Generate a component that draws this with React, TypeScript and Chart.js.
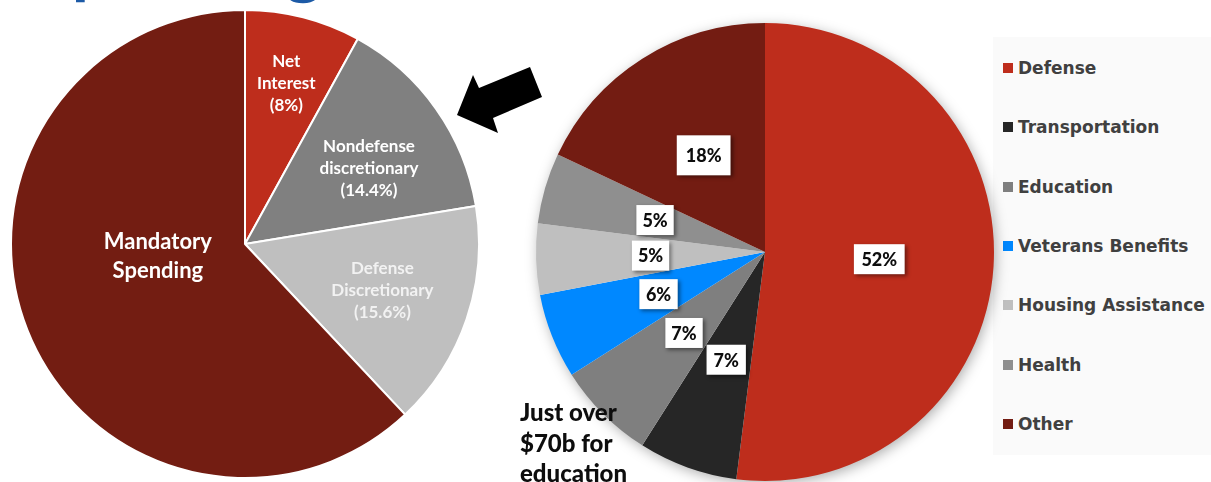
import React, { useEffect, useRef } from "react";
import { Chart, registerables } from "chart.js";
Chart.register(...registerables);

// ---------- data ----------
const leftCategories = ["Net Interest", "Nondefense discretionary", "Defense Discretionary", "Mandatory Spending"];
const leftValues = [8, 14.4, 15.6, 62];
const leftLabelLines = [["Net", "Interest"], ["Nondefense", "discretionary"], ["Defense", "Discretionary"], ["Mandatory", "Spending"]];
const leftShowPct = [true, true, true, false];

const rightCategories = ["Defense", "Transportation", "Education", "Veterans Benefits", "Housing Assistance", "Health", "Other"];
const rightValues = [52, 7, 7, 6, 5, 5, 18];

const titleText = "Spending";
const noteLines = ["Just over", "$70b for", "education"];

// ---------- styles ----------
const leftColors = ["#BE2D1C", "#808080", "#BFBFBF", "#731D12"];
const leftLabelRadius = [0.71, 0.62, 0.62, 0.376];
const leftLabelAngleShift = [0, 4, 0, 13.7];
const leftLabelFont = [17, 17, 17, 22];
const leftLabelLineH = [22, 22, 22, 29];
const leftLabelColor = ["#FFFFFF", "#FFFFFF", "#F2F2F2", "#FFFFFF"];

const rightColors = ["#BE2D1C", "#262626", "#7F7F7F", "#0088FF", "#BFBFBF", "#8F8F8F", "#731C12"];
const rightBoxPadX = [15, 14, 12, 13, 12, 12, 18];
const rightBoxH = [30, 30, 30, 30, 30, 30, 40];

const FONT = "Lato, 'Open Sans', sans-serif";

const leftLabelPlugin = {
  id: "leftLabels",
  afterDatasetsDraw(chart: any) {
    const ctx = chart.ctx;
    const meta = chart.getDatasetMeta(0);
    const vals = chart.data.datasets[0].data as number[];
    meta.data.forEach((arc: any, i: number) => {
      const { x, y, startAngle, endAngle, outerRadius } = arc.getProps(["x", "y", "startAngle", "endAngle", "outerRadius"], true);
      const a = (startAngle + endAngle) / 2 + (leftLabelAngleShift[i] * Math.PI) / 180;
      const r = outerRadius * leftLabelRadius[i];
      const cx = x + Math.cos(a) * r;
      const cy = y + Math.sin(a) * r;
      const lines = [...leftLabelLines[i]];
      if (leftShowPct[i]) lines.push(`(${vals[i]}%)`);
      ctx.save();
      ctx.font = `bold ${leftLabelFont[i]}px ${FONT}`;
      ctx.fillStyle = leftLabelColor[i];
      ctx.textAlign = "center";
      ctx.textBaseline = "middle";
      const lh = leftLabelLineH[i];
      lines.forEach((ln, k) => {
        ctx.fillText(ln, cx, cy + (k - (lines.length - 1) / 2) * lh);
      });
      ctx.restore();
    });
  },
};

const rightShadowPlugin = {
  id: "rightShadow",
  beforeDatasetsDraw(chart: any) {
    const ctx = chart.ctx;
    const arc = chart.getDatasetMeta(0).data[0] as any;
    if (!arc) return;
    const { x, y, outerRadius } = arc.getProps(["x", "y", "outerRadius"], true);
    ctx.save();
    ctx.shadowColor = "rgba(0,0,0,0.35)";
    ctx.shadowBlur = 14;
    ctx.shadowOffsetX = 2;
    ctx.shadowOffsetY = 3;
    ctx.fillStyle = "#ffffff";
    ctx.beginPath();
    ctx.arc(x, y, outerRadius - 1, 0, Math.PI * 2);
    ctx.fill();
    ctx.restore();
  },
};

const rightLabelPlugin = {
  id: "rightLabels",
  afterDatasetsDraw(chart: any) {
    const ctx = chart.ctx;
    const meta = chart.getDatasetMeta(0);
    const vals = chart.data.datasets[0].data as number[];
    meta.data.forEach((arc: any, i: number) => {
      const p = arc.tooltipPosition(true);
      const txt = `${vals[i]}%`;
      ctx.save();
      ctx.font = `900 18px ${FONT}`;
      const w = ctx.measureText(txt).width + rightBoxPadX[i];
      const h = rightBoxH[i];
      ctx.shadowColor = "rgba(0,0,0,0.45)";
      ctx.shadowBlur = 4;
      ctx.shadowOffsetX = 2;
      ctx.shadowOffsetY = 2;
      ctx.fillStyle = "#ffffff";
      ctx.fillRect(p.x - w / 2, p.y - h / 2, w, h);
      ctx.shadowColor = "transparent";
      ctx.fillStyle = "#0D0D0D";
      ctx.textAlign = "center";
      ctx.textBaseline = "middle";
      ctx.fillText(txt, p.x, p.y + 1);
      ctx.restore();
    });
  },
};

function PieCanvas({ kind }: { kind: "left" | "right" }) {
  const ref = useRef<HTMLCanvasElement>(null);
  useEffect(() => {
    if (!ref.current) return;
    const isLeft = kind === "left";
    const chart = new Chart(ref.current, {
      type: "pie",
      data: {
        labels: isLeft ? leftCategories : rightCategories,
        datasets: [
          {
            data: isLeft ? leftValues : rightValues,
            backgroundColor: isLeft ? leftColors : rightColors,
            borderColor: "#ffffff",
            borderWidth: isLeft ? 2 : 0,
            hoverOffset: 0,
            hoverBorderWidth: isLeft ? 2 : 0,
          } as any,
        ],
      },
      options: {
        animation: false,
        responsive: true,
        maintainAspectRatio: false,
        events: [],
        layout: { padding: isLeft ? 0 : 20 },
        plugins: {
          legend: { display: false },
          tooltip: { enabled: false },
        },
      },
      plugins: isLeft ? [leftLabelPlugin] : [rightShadowPlugin, rightLabelPlugin],
    });
    return () => chart.destroy();
  }, [kind]);
  return <canvas ref={ref} />;
}

export default function App() {
  useEffect(() => {
    document.body.style.margin = "0";
  }, []);
  return (
    <div style={{ position: "relative", width: 1211, height: 482, overflow: "hidden", background: "#ffffff" }}>
      <div
        style={{
          position: "absolute",
          left: 34,
          top: -72,
          font: `bold 70px ${FONT}`,
          lineHeight: "70px",
          color: "#1C5AA6",
          whiteSpace: "nowrap",
        }}
      >
        {titleText}
      </div>
      <div style={{ position: "absolute", left: 10, top: 9, width: 470, height: 470 }}>
        <PieCanvas kind="left" />
      </div>
      <div
        style={{
          position: "absolute",
          left: 993,
          top: 37,
          width: 218,
          height: 418,
          background: "#FAFAFA",
        }}
      >
        {rightCategories.map((c, i) => (
          <div
            key={c}
            style={{
              position: "absolute",
              left: 10,
              top: 31 + i * 59.33 - 12,
              height: 24,
              display: "flex",
              alignItems: "center",
              whiteSpace: "nowrap",
            }}
          >
            <span style={{ display: "inline-block", width: 10, height: 10, background: rightColors[i], marginRight: 5 }} />
            <span style={{ font: "bold 17px 'DejaVu Sans', sans-serif", color: "#404040", lineHeight: "24px" }}>{c}</span>
          </div>
        ))}
      </div>
      <div style={{ position: "absolute", left: 516, top: 3, width: 498, height: 498 }}>
        <PieCanvas kind="right" />
      </div>
      <svg
        width={1211}
        height={482}
        style={{ position: "absolute", left: 0, top: 0, pointerEvents: "none" }}
      >
        <polygon points="457,115 473,75 479,88 530,67 542,97 493,118 498,133" fill="#000000" />
      </svg>
      <div
        style={{
          position: "absolute",
          left: 520,
          top: 397,
          font: `900 24px ${FONT}`,
          lineHeight: "30.5px",
          color: "#0D0D0D",
          whiteSpace: "nowrap",
        }}
      >
        {noteLines.map((l) => (
          <div key={l}>{l}</div>
        ))}
      </div>
    </div>
  );
}
